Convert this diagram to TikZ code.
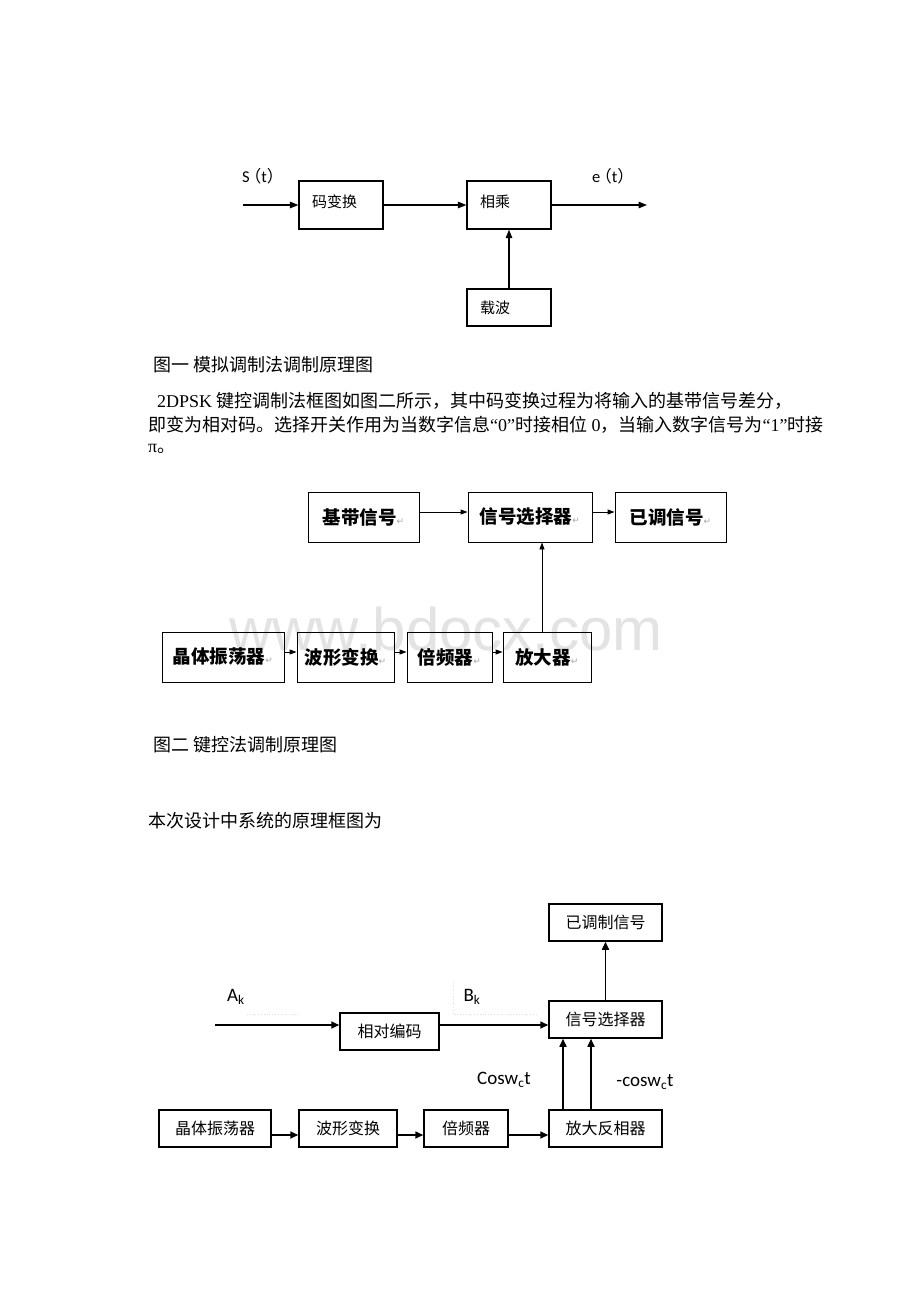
\documentclass[tikz,border=0pt]{standalone}
\usepackage{fontspec}
\setmainfont{Liberation Serif}
\newfontfamily\cjk{Noto Sans CJK SC}
\newfontfamily\lab{Carlito}
\newfontfamily\wmark{Liberation Sans}
\newfontfamily\dvs{DejaVu Sans}
\usepackage{tikz}
\usetikzlibrary{arrows.meta, calc}
\pgfdeclarelayer{background}
\pgfsetlayers{background,main}

% Paragraph mark as shown in figure two
\newcommand{\pmark}{{\dvs\mdseries\fontsize{9}{9}\selectfont\color{black!35}↵}}

\begin{document}
\begin{tikzpicture}[x=1pt, y=-1pt]

    % Page
    \useasboundingbox (0,0) rectangle (920,1302);

    % Running text
    \tikzset{tP/.style={anchor=west, inner sep=0pt, font=\fontsize{18}{22}\selectfont}}

    % Figure one
    \tikzset{nA/.style={draw, line width=1.2pt, minimum height=48, inner xsep=13pt, text width=58pt, align=left, text height=13.2pt, text depth=8.8pt, font=\cjk\fontsize{15}{18}\selectfont}}
    \tikzset{pA/.style={line width=1.2pt, -{Triangle[length=8.5pt, width=6.5pt]}}}
    \tikzset{tA/.style={anchor=west, inner sep=0pt, font=\lab\fontsize{16.5}{19}\selectfont}}

    % Figure two
    \tikzset{nB/.style={draw, line width=0.9pt, minimum height=50, font=\cjk\bfseries\fontsize{18.5}{22}\selectfont}}
    \tikzset{pB/.style={line width=0.9pt, -{Triangle[length=7pt, width=5pt]}}}

    % Figure three
    \tikzset{nC/.style={draw, line width=1.5pt, minimum height=37, font=\cjk\fontsize{16}{19}\selectfont}}
    \tikzset{pC/.style={line width=1.6pt, -{Triangle[length=8pt, width=7pt]}}}
    \tikzset{tC/.style={inner sep=0pt, font=\lab\fontsize{19}{22}\selectfont}}

    % Background: page and watermark
    \begin{pgfonlayer}{background}
    	\fill[white] (0,0) rectangle (920,1302);
    	\node (wm) [anchor=base east, inner sep=0pt, text=black!11, font=\wmark\fontsize{60}{60}\selectfont] at (663, 650) {www.bdocx.com};
    \end{pgfonlayer}

    % Figure one nodes
    \coordinate (sa) at (243, 205);
    \node (ma) [nA] at (341, 205) {码变换};
    \node (mb) [nA] at (509, 205) {相乘};
    \coordinate (ea) at (647, 205);
    	\node (mc) [nA, minimum height=37, text depth=1.8pt] at (509, 307.5) {载波};
    \node (st) [tA] at (242, 176) {S\kern-5pt{\cjk （}t{\cjk ）}};
    \node (et) [tA] at (592, 176) {e\kern-5pt{\cjk （}t{\cjk ）}};

    \draw[pA] (sa) -- (ma);
    \draw[pA] (ma) -- (mb);
    \draw[pA] (mb) -- (ea);
    \draw[pA] (mc) -- (mb);

    % Captions and paragraph
    \node (c1) [tP] at (153, 365) {\cjk 图一 模拟调制法调制原理图};
    \node (p1) [tP] at (157, 401) {2DPSK {\cjk 键控调制法框图如图二所示，其中码变换过程为将输入的基带信号差分，}};
    \node (p2) [tP] at (148, 425) {{\cjk 即变为相对码。选择开关作用为当数字信息}“0”{\cjk 时接相位} 0{\cjk ，当输入数字信号为}“1”{\cjk 时接}};
    \node (p3) [tP] at (148, 449) {π{\cjk 。}};
    \node (c2) [tP] at (153, 745) {\cjk 图二 键控法调制原理图};
    \node (c3) [tP] at (148, 820.5) {\cjk 本次设计中系统的原理框图为};

    % Figure two nodes
    \node (jd) [nB, minimum width=111] at (363.5, 517) {基带信号\pmark};
    \node (xz) [nB, minimum width=124] at (530, 517) {信号选择器\pmark};
    \node (yt) [nB, minimum width=111] at (670.5, 517) {已调信号\pmark};
    	\node (jt) [nB, minimum width=122] at (223, 657) {晶体振荡器\pmark};
    	\node (bx) [nB, minimum width=97] at (345.5, 657) {波形变换\pmark};
    	\node (bp) [nB, minimum width=85] at (449.5, 657) {倍频器\pmark};
    	\node (fd) [nB, minimum width=88] at (547, 657) {放大器\pmark};

    \draw[pB] ([yshift=5]jd.east) -- ([yshift=5]xz.west);
    \draw[pB] ([yshift=5]xz.east) -- ([yshift=5]yt.west);
    \draw[pB] ([yshift=5]jt.east) -- ([yshift=5]bx.west);
    \draw[pB] ([yshift=5]bx.east) -- ([yshift=5]bp.west);
    \draw[pB] ([yshift=5]bp.east) -- ([yshift=5]fd.west);
    \draw[pB] ([xshift=-5]fd.north) -- ([xshift=-5]fd.north |- xz.south);

    % Figure three nodes
    \node (cy) [nC, minimum width=113] at (605.5, 922.5) {已调制信号};
    \node (cx) [nC, minimum width=113] at (605.5, 1019.5) {信号选择器};
    \coordinate (ak) at (215, 1025);
    \node (cd) [nC, minimum width=99] at (389.5, 1031.5) {相对编码};
    	\node (cj) [nC, minimum width=112] at (215, 1128.5) {晶体振荡器};
    	\node (cb) [nC, minimum width=98] at (348, 1128.5) {波形变换};
    	\node (cp) [nC, minimum width=84] at (466, 1128.5) {倍频器};
    	\node (cf) [nC, minimum width=113] at (605.5, 1128.5) {放大反相器};
    \node (la) [tC] at (236, 997) {A\textsubscript{k}};
    \node (lb) [tC] at (472, 997) {B\textsubscript{k}};
    \node (lc) [tC] at (504, 1080) {Cosw\textsubscript{c}t};
    \node (ld) [tC] at (645, 1082) {-cosw\textsubscript{c}t};

    % faint frames of the labels
    \draw[black!12, dotted, line width=0.8pt] (247,1014) -- (298,1014);
    \draw[black!12, dotted, line width=0.8pt] (453,982) -- (453,1014) -- (536,1014);

    \draw[pC] (ak) -- ([yshift=6.5]cd.west);
    \draw[pC] ([yshift=6.5]cd.east) -- ([yshift=6.5]cd.east -| cx.west);
    \draw[pC] ([yshift=-6.5]cj.east) -- ([yshift=-6.5]cb.west);
    \draw[pC] ([yshift=-6.5]cb.east) -- ([yshift=-6.5]cp.west);
    \draw[pC] ([yshift=-6.5]cp.east) -- ([yshift=-6.5]cf.west);
    \draw[pC] ([xshift=-42.5]cf.north) -- ([xshift=-42.5]cx.south);
    \draw[pC] ([xshift=-14.5]cf.north) -- ([xshift=-14.5]cx.south);
    \draw[pC] (cx) -- (cy);

\end{tikzpicture}
\end{document}
